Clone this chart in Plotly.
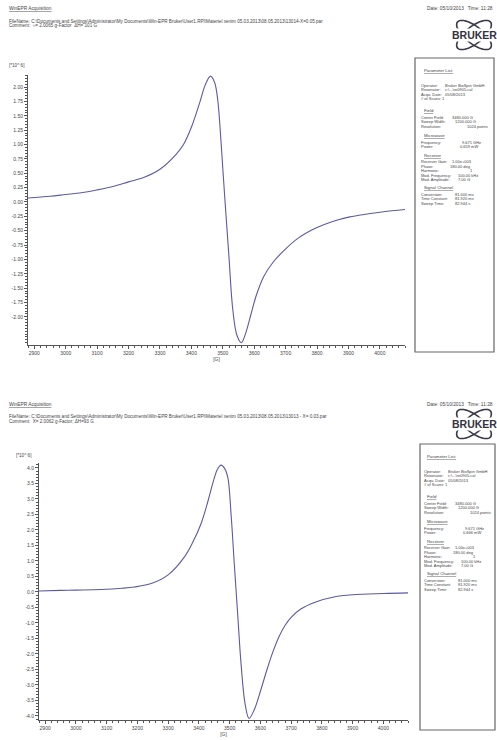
import math
import plotly.graph_objects as go

W, H = 497, 740

# ---------------- data ----------------
top_field = [2880, 2950, 3000, 3050, 3100, 3150, 3200, 3250, 3300, 3350, 3375, 3400, 3426, 3445,
             3461, 3474, 3484, 3495, 3506, 3519, 3532, 3545, 3559, 3572, 3590, 3607, 3630, 3660,
             3692, 3740, 3798, 3850, 3904, 3960, 4011, 4080]
top_signal = [0.07, 0.10, 0.13, 0.16, 0.21, 0.27, 0.35, 0.43, 0.57, 0.82, 1.00, 1.30, 1.72, 2.05,
              2.19, 2.08, 1.77, 1.00, 0.10, -0.90, -1.88, -2.32, -2.45, -2.30, -1.95, -1.62, -1.30, -1.05,
              -0.86, -0.63, -0.45, -0.34, -0.26, -0.21, -0.17, -0.13]

bot_field = [2880, 2950, 3000, 3083, 3150, 3190, 3245, 3300, 3353, 3380, 3407, 3430, 3445, 3460,
             3472, 3484, 3494, 3505, 3515, 3526, 3537, 3550, 3563, 3580, 3601, 3620, 3640, 3660,
             3680, 3700, 3730, 3780, 3839, 3900, 4000, 4080]
bot_signal = [0.03, 0.05, 0.06, 0.08, 0.12, 0.16, 0.27, 0.55, 1.13, 1.60, 2.20, 2.95, 3.50, 3.95,
              4.09, 3.98, 3.70, 2.45, 0.92, -0.70, -2.31, -3.60, -4.08, -3.80, -3.17, -2.55, -1.95, -1.45,
              -1.08, -0.82, -0.56, -0.32, -0.16, -0.09, -0.05, -0.03]

x_ticks = [2900, 3000, 3100, 3200, 3300, 3400, 3500, 3600, 3700, 3800, 3900, 4000]
top_yticks = [2.00, 1.75, 1.50, 1.25, 1.00, 0.75, 0.50, 0.25, 0.00, -0.25, -0.50, -0.75,
              -1.00, -1.25, -1.50, -1.75, -2.00]
bot_yticks = [4.0, 3.5, 3.0, 2.5, 2.0, 1.5, 1.0, 0.5, 0.0, -0.5, -1.0, -1.5, -2.0, -2.5,
              -3.0, -3.5, -4.0]

# (kind, label, value)
params_top = [
    ("u", "Parameter List:", ""),
    ("t", "Operator:", "Bruker BioSpin GmbH"), ("t", "Resonator:", "c:\\...\\re0905.cal"),
    ("t", "Acqu. Date:", "05/08/2013"), ("t", "# of Scans: 1", ""),
    ("u", "Field", ""),
    ("t", "Center Field:", "3480.000 G"), ("t", "Sweep Width:", "1200.000 G"),
    ("t", "Resolution:", "1024 points"),
    ("u", "Microwave", ""),
    ("t", "Frequency:", "9.671 GHz"), ("t", "Power:", "0.659 mW"),
    ("u", "Receiver", ""),
    ("t", "Receiver Gain:", "1.00e+003"), ("t", "Phase:", "180.00 deg"),
    ("t", "Harmonic:", "1"), ("t", "Mod. Frequency:", "100.00 kHz"),
    ("t", "Mod. Amplitude:", "7.00 G"),
    ("u", "Signal Channel", ""),
    ("t", "Conversion:", "81.000 ms"), ("t", "Time Constant:", "81.920 ms"),
    ("t", "Sweep Time:", "82.944 s"),
]
params_bot = [(k, a, b.replace("0.659 mW", "0.666 mW")) for k, a, b in params_top]

# layout of the parameter boxes (decoration, not data)
row_dy = [12, 27.3, 31.7, 36.1, 40.5, 52.8, 59.5, 63.9, 68.3, 77.3, 84, 88.4, 97.2, 103.8,
          108.2, 112.6, 117.0, 121.4, 129.8, 136.3, 140.7, 145.1]
val_dx = [0, 24, 24, 24, 0, 0, 31, 34, 46, 0, 41, 39, 0, 31, 29, 49, 37, 37, 0, 34, 34, 34]

AXC = "#555555"
LINEC = "#5a5aa6"
TXT = "#444444"
FONT = "Liberation Sans"
PFS = 4.0

fig = go.Figure()
fig.add_trace(go.Scatter(x=top_field, y=top_signal, mode="lines", line_shape="spline",
                         line=dict(color=LINEC, width=1.1), xaxis="x", yaxis="y", showlegend=False))
fig.add_trace(go.Scatter(x=bot_field, y=bot_signal, mode="lines", line_shape="spline",
                         line=dict(color=LINEC, width=1.1), xaxis="x2", yaxis="y2", showlegend=False))


def xax(domain, anchor):
    return dict(domain=domain, anchor=anchor, range=[2880, 4080], tickvals=x_ticks,
                ticktext=[str(v) for v in x_ticks], ticks="outside", ticklen=3, tickwidth=1,
                tickcolor=AXC, showline=True, linecolor=AXC, linewidth=1, showgrid=False,
                zeroline=False, tickfont=dict(size=5, color=TXT, family=FONT),
                minor=dict(dtick=20, tick0=2880, ticks="outside", ticklen=2, tickcolor=AXC),
                title=dict(text="[G]", font=dict(size=5, color=TXT, family=FONT), standoff=0))


def yax(domain, anchor, rng, vals, fmt, mdt):
    return dict(domain=domain, anchor=anchor, range=rng, tickvals=vals,
                ticktext=[fmt.format(v) for v in vals], ticks="outside", ticklen=3, tickwidth=1,
                tickcolor=AXC, showline=True, linecolor=AXC, linewidth=1, showgrid=False,
                zeroline=False, tickfont=dict(size=5, color=TXT, family=FONT),
                minor=dict(dtick=mdt, ticks="outside", ticklen=2, tickcolor=AXC))


fig.update_layout(
    width=W, height=H, margin=dict(l=0, r=0, t=0, b=0),
    paper_bgcolor="white", plot_bgcolor="white",
    xaxis=xax([28 / W, 405 / W], "y"),
    yaxis=yax([1 - 345 / H, 1 - 75 / H], "x", [-2.49, 2.21], top_yticks, "{:.2f}", 0.05),
    xaxis2=xax([39 / W, 408 / W], "y2"),
    yaxis2=yax([1 - 720 / H, 1 - 463 / H], "x2", [-4.13, 4.16], bot_yticks, "{:.1f}", 0.1),
)


def txt(x, y, s, size=4.6, anchor="left", color=TXT, bg=None, bold=False):
    fig.add_annotation(x=x / W, y=1 - y / H, xref="paper", yref="paper", text=s, showarrow=False,
                       xanchor=anchor, yanchor="middle", borderpad=0,
                       bgcolor=bg if bg else "rgba(0,0,0,0)",
                       font=dict(size=size, family=FONT, color=color,
                                 weight="bold" if bold else "normal"))


def ellipse_path(cx, cy, a, b, ang):
    pts = []
    th = math.radians(ang)
    for i in range(73):
        t = 2 * math.pi * i / 72
        px = a * math.cos(t)
        py = b * math.sin(t)
        x = cx + px * math.cos(th) - py * math.sin(th)
        y = cy + px * math.sin(th) + py * math.cos(th)
        pts.append((x / W, 1 - y / H))
    return "M " + " L ".join(f"{p[0]:.5f},{p[1]:.5f}" for p in pts) + " Z"


def logo(cx, cy):
    for ang in (38, -38):
        fig.add_shape(type="path", xref="paper", yref="paper", path=ellipse_path(cx, cy, 21, 8.5, ang),
                      line=dict(color="#3a3a4a", width=1.6), fillcolor="rgba(0,0,0,0)")
    txt(cx, cy, "BRUKER", size=10.5, anchor="center", color="#333340", bg="white", bold=True)


def header(y0, fname, comment):
    txt(8, y0, "<u>WinEPR Acquisition</u>", size=4.8)
    txt(494, y0, "Date: 05/10/2013   Time: 11:28", size=4.8, anchor="right")
    txt(8, y0 + 12, fname, size=4.6)
    txt(8, y0 + 17, comment, size=4.6)


def param_box(x0, y0, x1, y1, items, lab_dx):
    fig.add_shape(type="rect", xref="paper", yref="paper", x0=x0 / W, x1=x1 / W,
                  y0=1 - y1 / H, y1=1 - y0 / H, line=dict(color="#666666", width=1.2))
    for (kind, lab, val), dy, vdx in zip(items, row_dy, val_dx):
        y = y0 + dy
        if kind == "u":
            txt(x0 + lab_dx + 3, y, "<u>" + lab + "</u>", size=PFS + 0.3)
        else:
            txt(x0 + lab_dx, y, lab, size=PFS)
            if val:
                txt(x0 + lab_dx + vdx, y, val, size=PFS)


# top page section
header(9, "FileName: C:\\Documents and Settings\\Administrator\\My Documents\\Win-EPR Bruker\\User1.RPI\\Materiel xenim 05.03.2013\\08.05.2013\\13014-X=0.05.par",
       "Comment:  \u2248= 2.0065 g-Factor  \u0394H= 101 G")
logo(474, 35)
txt(8, 66, "[*10^ 6]", size=4.6)
param_box(415, 58, 494, 352, params_top, 5)

# bottom page section
header(404, "FileName: C:\\Documents and Settings\\Administrator\\My Documents\\Win-EPR Bruker\\User1.RPI\\Materiel xenim 05.03.2013\\08.05.2013\\13013 - X= 0.03.par",
       "Comment:  X= 2.0062 g-Factor; \u0394H=93 G")
logo(474, 424)
txt(15, 455, "[*10^ 6]", size=4.6)
param_box(420, 444, 495, 730, params_bot, 3)

fig.write_html("out.html")
